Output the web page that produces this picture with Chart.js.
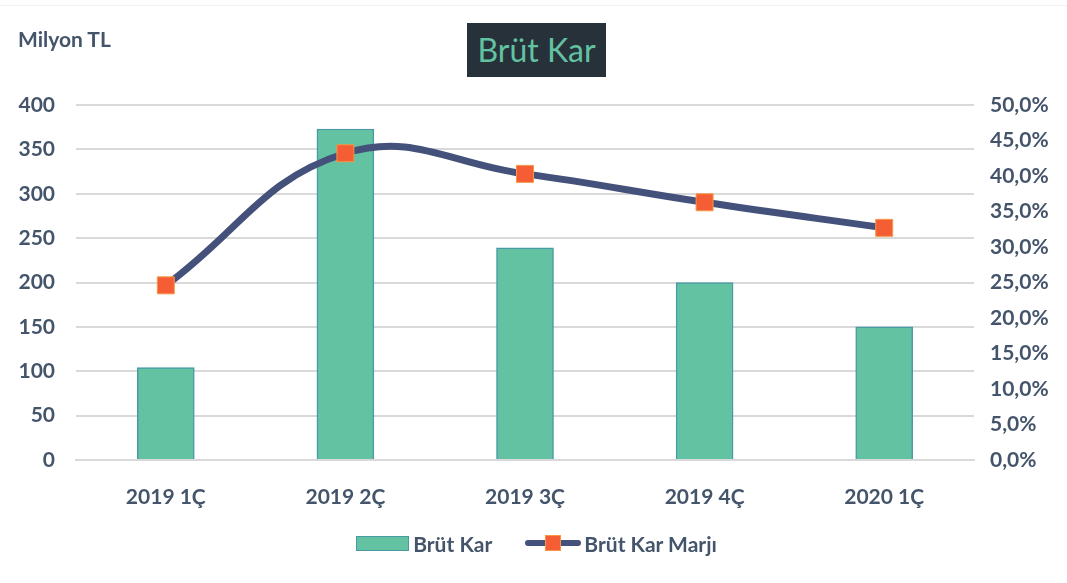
<!DOCTYPE html>
<html>
<head>
<meta charset="utf-8">
<script src="https://cdn.jsdelivr.net/npm/chart.js@4/dist/chart.umd.min.js"></script>
<style>
  html, body { margin: 0; padding: 0; background: #fff; }
  #wrap { position: relative; width: 1067px; height: 583px; font-family: Lato, "Open Sans", sans-serif; color: #44546a; }
  #topline { position: absolute; left: 0; top: 5px; width: 1067px; height: 1px; background: #f2f2f2; }
  #unit { position: absolute; left: 18px; top: 26px; font-size: 21px; font-weight: bold; }
  #title { position: absolute; left: 467px; top: 23px; width: 139px; height: 54px; background: #263139; color: #62c2a2;
           font-size: 32px; line-height: 54px; text-align: center; }
  #legend { position: absolute; left: 3px; top: 530px; width: 1067px; text-align: center; font-size: 21px; font-weight: bold; }
  .item { display: inline-flex; align-items: center; margin: 0 14px; }
  .barbox { width: 51px; height: 13px; background: #62c2a2; border: 1.5px solid #4a9aa5; margin-right: 4px; }
  .lineicon { position: relative; width: 56px; height: 16px; margin-right: 3px; }
  .lineicon .ln { position: absolute; left: 0; top: 5px; width: 56px; height: 6px; background: #44527b; border-radius: 3px; }
  .lineicon .mk { position: absolute; left: 20px; top: 0; width: 14px; height: 14px; background: #f55e35; border: 1px solid #f79646; }
  #chartBox { position: absolute; left: 0; top: 0; width: 1067px; height: 583px; }
</style>
</head>
<body>
<div id="wrap">
  <div id="topline"></div>
  <div id="chartBox"><canvas id="chart" width="1067" height="583"></canvas></div>
  <div id="unit">Milyon TL</div>
  <div id="title">Brüt Kar</div>
  <div id="legend">
    <span class="item"><span class="barbox"></span>Brüt Kar</span>
    <span class="item"><span class="lineicon"><span class="ln"></span><span class="mk"></span></span>Brüt Kar Marjı</span>
  </div>
</div>
<script>
// kategoriler ve seriler
const donemler = ['2019 1Ç', '2019 2Ç', '2019 3Ç', '2019 4Ç', '2020 1Ç'];
const brutKar = [104, 373, 239, 200, 150];          // Milyon TL
const brutKarMarji = [24.6, 43.2, 40.3, 36.3, 32.7]; // %

const textColor = '#44546a';
const tickFont = { family: 'Lato', size: 21, weight: 'bold' };

const ctx = document.getElementById('chart').getContext('2d');
new Chart(ctx, {
    data: {
        labels: donemler,
        datasets: [
            {
                type: 'line',
                label: 'Brüt Kar Marjı',
                data: brutKarMarji,
                yAxisID: 'y2',
                borderColor: '#44527b',
                borderWidth: 7,
                tension: 0.42,
                pointStyle: 'rect',
                pointRadius: 12,
                pointBackgroundColor: '#f55e35',
                pointBorderColor: '#f79646',
                pointBorderWidth: 1,
                order: 0
            },
            {
                type: 'bar',
                label: 'Brüt Kar',
                data: brutKar,
                yAxisID: 'y',
                backgroundColor: '#62c2a2',
                borderColor: '#4a9aa5',
                borderWidth: 1.5,
                barThickness: 57,
                order: 1
            }
        ]
    },
    options: {
        responsive: false,
        animation: false,
        devicePixelRatio: 1,
        layout: { padding: { top: 105, bottom: 73, left: 0, right: 0 } },
        plugins: {
            legend: { display: false },
            title: { display: false },
            tooltip: { enabled: false }
        },
        scales: {
            x: {
                grid: { display: false },
                border: { color: '#d9d9d9', width: 2 },
                ticks: { color: textColor, font: tickFont, padding: 17 },
                afterFit: function(scale) { scale.height = 50; }
            },
            y: {
                position: 'left',
                min: 0, max: 400,
                ticks: { stepSize: 50, color: textColor, font: tickFont, padding: 21 },
                grid: { color: '#d9d9d9', lineWidth: 2, drawTicks: false },
                border: { display: false },
                afterFit: function(scale) { scale.width = 76; }
            },
            y2: {
                position: 'right',
                min: 0, max: 50,
                ticks: {
                    stepSize: 5, color: textColor, font: tickFont, padding: 16,
                    callback: function(v) { return v.toFixed(1).replace('.', ',') + '%'; }
                },
                grid: { display: false, drawTicks: false },
                border: { display: false },
                afterFit: function(scale) { scale.width = 93; }
            }
        }
    }
});
</script>
</body>
</html>
